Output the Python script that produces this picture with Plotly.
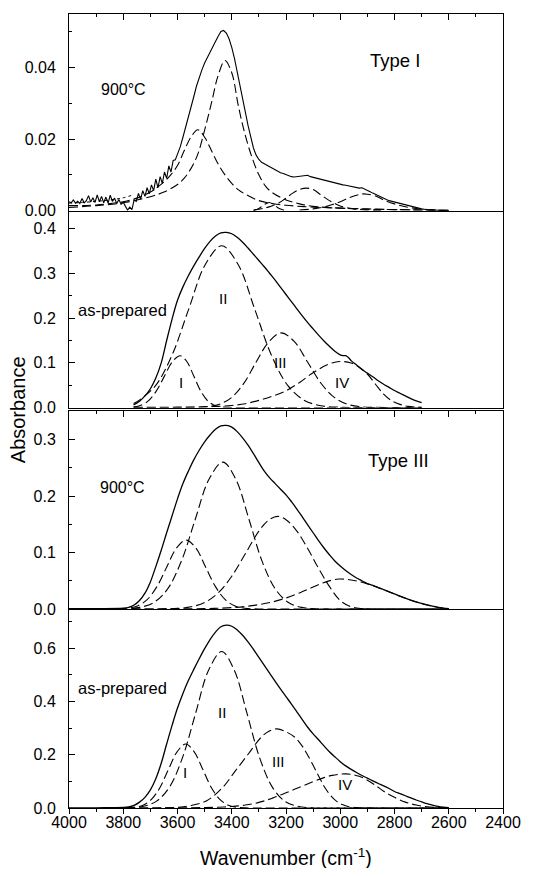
import plotly.graph_objects as go

FONT = "Liberation Sans, Arial, Helvetica, sans-serif"

# ---------------- Panel 1 : Type I, 900 °C ----------------
p1_raw_x1 = list(range(4000, 3599, -8))
p1_raw_y1 = [0.0025, 0.0022, 0.0030, 0.0021, 0.0026, 0.0020, 0.0034, 0.0022, 0.0028, 0.0042,
             0.0024, 0.0036, 0.0023, 0.0044, 0.0025, 0.0040, 0.0022, 0.0038, 0.0021, 0.0043,
             0.0026, 0.0035, 0.0020, 0.0031, 0.0018,
             0.0024, 0.0012, 0.0002, 0.0010, 0.0003,
             0.0030, 0.0026, 0.0048, 0.0032, 0.0056, 0.0040, 0.0064, 0.0047, 0.0072, 0.0056,
             0.0088, 0.0064, 0.0095, 0.0076, 0.0108, 0.0090, 0.0125, 0.0108, 0.0140, 0.0142,
             0.0158]
p1_raw_x2 = list(range(3590, 2599, -10))
p1_raw_y2 = [0.0178, 0.0205, 0.0232, 0.0258, 0.0287, 0.0318, 0.0348, 0.0372, 0.0393, 0.0412,
             0.0428, 0.0443, 0.0457, 0.0472, 0.0487, 0.0500, 0.0503, 0.0496, 0.0480, 0.0456,
             0.0425, 0.0390, 0.0355, 0.0316, 0.0276, 0.0238, 0.0203, 0.0175, 0.0155, 0.0143,
             0.0135, 0.0131, 0.0126, 0.0121, 0.0117, 0.0113, 0.0110, 0.0106, 0.0104, 0.0101,
             0.0097, 0.0095, 0.0094, 0.0095, 0.0096, 0.0098, 0.0097, 0.0099, 0.0095, 0.0093,
             0.0090, 0.0088, 0.0086, 0.0084, 0.0082, 0.0080, 0.0078, 0.0077, 0.0075, 0.0074,
             0.0072, 0.0071, 0.0069, 0.0068, 0.0066, 0.0064, 0.0063, 0.0064, 0.0061, 0.0057,
             0.0053, 0.0049, 0.0045, 0.0041, 0.0037, 0.0034, 0.0031, 0.0028, 0.0026, 0.0023,
             0.0021, 0.0019, 0.0017, 0.0015, 0.0013, 0.0011, 0.0009, 0.0008, 0.0006, 0.0005,
             0.0004, 0.0003, 0.0003, 0.0002, 0.0002, 0.0001, 0.0001, 0.0001, 0.0000, 0.0000]
p1_fit_x = [4000, 3950, 3900, 3850, 3800, 3760]
p1_fit_y = [0.0021, 0.0023, 0.0026, 0.0030, 0.0036, 0.0045]

p1_A_x = [4000, 3900, 3800, 3700, 3650, 3600, 3575, 3550, 3525, 3500, 3475, 3450, 3425, 3400,
          3375, 3350, 3325, 3300, 3275, 3250, 3200, 3150, 3100, 3000, 2900, 2800, 2700, 2600]
p1_A_y = [0.0009, 0.0014, 0.0022, 0.0039, 0.0052, 0.0073, 0.0091, 0.0118, 0.0158, 0.0225,
          0.0300, 0.0378, 0.0419, 0.0385, 0.0290, 0.0210, 0.0148, 0.0100, 0.0068, 0.0050,
          0.0030, 0.0019, 0.0012, 0.0007, 0.0004, 0.0003, 0.0002, 0.0001]
p1_B_x = [4000, 3900, 3800, 3750, 3700, 3650, 3625, 3600, 3575, 3550, 3525, 3500, 3475, 3450,
          3425, 3400, 3375, 3350, 3300, 3250, 3200, 3100, 3000, 2900, 2800, 2700, 2600]
p1_B_y = [0.0014, 0.0016, 0.0025, 0.0035, 0.0052, 0.0080, 0.0100, 0.0126, 0.0168, 0.0206,
          0.0226, 0.0205, 0.0168, 0.0130, 0.0100, 0.0076, 0.0058, 0.0046, 0.0028, 0.0020,
          0.0015, 0.0010, 0.0007, 0.0005, 0.0003, 0.0002, 0.0001]
p1_C_x = [3320, 3300, 3280, 3262, 3245, 3225, 3200]
p1_C_y = [0.0, 0.0006, 0.0017, 0.0023, 0.0017, 0.0006, 0.0]
p1_D_x = [3320, 3280, 3250, 3225, 3200, 3175, 3150, 3125, 3100, 3075, 3050, 3025, 3000, 2950, 2900, 2850]
p1_D_y = [0.0002, 0.0007, 0.0014, 0.0022, 0.0035, 0.0049, 0.0059, 0.0063, 0.0059, 0.0046,
          0.0033, 0.0022, 0.0013, 0.0005, 0.0002, 0.0001]
p1_E_x = [3150, 3100, 3050, 3000, 2960, 2930, 2915, 2900, 2870, 2840, 2800, 2760, 2720, 2680, 2640, 2600]
p1_E_y = [0.0002, 0.0005, 0.0012, 0.0025, 0.0038, 0.0045, 0.0047, 0.0046, 0.0041, 0.0030,
          0.0019, 0.0011, 0.0006, 0.0003, 0.0001, 0.0000]

# ---------------- Panel 2 : Type I, as-prepared ----------------
p2_tot_x = [3762] + list(range(3740, 2999, -20)) + [2990, 2980, 2970, 2960] + list(range(2940, 2699, -20))
p2_tot_y = [0.006, 0.014, 0.026, 0.042, 0.066, 0.100, 0.150, 0.198, 0.240, 0.270,
            0.295, 0.317, 0.337, 0.356, 0.372, 0.384, 0.391, 0.392, 0.389, 0.381,
            0.370, 0.357, 0.343, 0.329, 0.315, 0.300, 0.285, 0.269, 0.253, 0.237,
            0.221, 0.205, 0.190, 0.176, 0.162, 0.149, 0.137, 0.126, 0.118,
            0.116, 0.116, 0.112, 0.105,
            0.095, 0.085, 0.077, 0.069, 0.060, 0.052, 0.045, 0.038, 0.032, 0.026, 0.020, 0.015, 0.011]
p2_I_x = [3762, 3740, 3710, 3680, 3650, 3620, 3590, 3565, 3540, 3515, 3490, 3465, 3440, 3400, 3300, 3100, 2900, 2700]
p2_I_y = [0.0014, 0.0041, 0.0136, 0.035, 0.068, 0.1015, 0.116, 0.1024, 0.0704, 0.0377,
          0.0157, 0.0051, 0.0013, 0.0001, 0.0, 0.0, 0.0, 0.0]
p2_II_x = [3762, 3742, 3681, 3620, 3559, 3498, 3437, 3376, 3315, 3254, 3193, 3132, 3071, 3010, 2950, 2850, 2700]
p2_II_y = [0.009, 0.0159, 0.049, 0.1175, 0.2196, 0.3195, 0.362, 0.3195, 0.2196, 0.1175,
           0.049, 0.0159, 0.004, 0.0008, 0.0001, 0.0, 0.0]
p2_III_x = [3762, 3580, 3535, 3490, 3445, 3400, 3355, 3310, 3263, 3218, 3169, 3120, 3071,
            3022, 2973, 2924, 2875, 2800, 2700]
p2_III_y = [0.0, 0.0001, 0.0004, 0.0019, 0.0074, 0.0227, 0.0546, 0.1019, 0.1474, 0.167,
            0.1474, 0.1013, 0.0543, 0.0226, 0.0073, 0.0018, 0.0004, 0.0, 0.0]
p2_IV_x = [3762, 3600, 3500, 3450, 3400, 3350, 3300, 3250, 3200, 3150, 3100, 3050, 3020,
           2994, 2960, 2930, 2900, 2870, 2840, 2810, 2780, 2750, 2700]
p2_IV_y = [0.0002, 0.0008, 0.0015, 0.0025, 0.0045, 0.0085, 0.0160, 0.0255, 0.0375, 0.0560,
           0.0780, 0.0950, 0.1015, 0.1030, 0.0995, 0.0900, 0.0750, 0.0520, 0.0300, 0.0150,
           0.0070, 0.0025, 0.0005]

# ---------------- Panel 3 : Type III, 900 °C ----------------
p3_tot_x = [4000, 3900, 3800] + list(range(3780, 2599, -20))
p3_tot_y = [0.0005, 0.0008, 0.0015,
            0.0028, 0.007, 0.015, 0.028, 0.048, 0.075, 0.104, 0.135, 0.165, 0.195,
            0.222, 0.244, 0.264, 0.281, 0.296, 0.308, 0.318, 0.324, 0.325, 0.322,
            0.314, 0.303, 0.290, 0.275, 0.259, 0.244, 0.232, 0.222, 0.212, 0.202,
            0.190, 0.177, 0.163, 0.149, 0.135, 0.121, 0.108, 0.096, 0.085, 0.076,
            0.068, 0.061, 0.055, 0.050, 0.045, 0.042, 0.038, 0.0345, 0.0305, 0.0268,
            0.023, 0.0192, 0.0158, 0.0127, 0.0098, 0.0072, 0.005, 0.0031, 0.0015, 0.0005]
p3_I_x = [3820, 3784, 3748, 3712, 3676, 3640, 3604, 3568, 3532, 3496, 3460, 3424, 3388, 3352, 3300, 3000, 2600]
p3_I_y = [0.0003, 0.0014, 0.0054, 0.0165, 0.0396, 0.074, 0.1077, 0.122, 0.1077, 0.074,
          0.0396, 0.0165, 0.0054, 0.0014, 0.0001, 0.0, 0.0]
p3_II_x = [3770, 3739, 3688, 3637, 3586, 3535, 3484, 3433, 3385, 3336, 3288, 3239, 3191, 3142, 3094, 3000, 2600]
p3_II_y = [0.0010, 0.0029, 0.0114, 0.0352, 0.0844, 0.158, 0.2295, 0.26, 0.2295, 0.158,
           0.0844, 0.0352, 0.0114, 0.0029, 0.0006, 0.0, 0.0]
p3_III_x = [3770, 3650, 3600, 3550, 3500, 3450, 3400, 3350, 3300, 3265, 3231, 3200, 3160,
            3120, 3080, 3040, 3000, 2960, 2920, 2850, 2600]
p3_III_y = [0.0, 0.0003, 0.0011, 0.0039, 0.0116, 0.0285, 0.058, 0.0977, 0.1378, 0.157,
            0.164, 0.158, 0.138, 0.107, 0.072, 0.040, 0.015, 0.004, 0.0008, 0.0001, 0.0]
p3_IV_x = [3770, 3600, 3500, 3450, 3400, 3350, 3300, 3250, 3200, 3150, 3100, 3050, 3006,
           2960, 2920, 2880, 2840, 2800, 2760, 2720, 2680, 2640, 2600]
p3_IV_y = [0.0, 0.0003, 0.0008, 0.0014, 0.0025, 0.0045, 0.0078, 0.0125, 0.0195, 0.0285,
           0.0390, 0.0485, 0.053, 0.0515, 0.0475, 0.0415, 0.0345, 0.0265, 0.0190, 0.0125,
           0.0070, 0.0030, 0.0004]

# ---------------- Panel 4 : Type III, as-prepared ----------------
p4_tot_x = [4000, 3900] + list(range(3800, 2599, -20))
p4_tot_y = [0.0003, 0.0008,
            0.002, 0.004, 0.010, 0.022, 0.040, 0.068, 0.110, 0.168, 0.240, 0.310,
            0.375, 0.430, 0.478, 0.520, 0.560, 0.598, 0.632, 0.660, 0.680, 0.686,
            0.682, 0.668, 0.648, 0.623, 0.595, 0.565, 0.535, 0.505, 0.475, 0.446,
            0.418, 0.390, 0.361, 0.332, 0.303, 0.278, 0.256, 0.233, 0.211, 0.192,
            0.174, 0.158, 0.145, 0.133, 0.122, 0.112, 0.102, 0.092, 0.083, 0.073,
            0.062, 0.054, 0.046, 0.038, 0.030, 0.023, 0.016, 0.011, 0.006, 0.003,
            0.001]
p4_I_x = [3790, 3759, 3727, 3696, 3664, 3633, 3601, 3570, 3539, 3507, 3476, 3444, 3413, 3381, 3350, 3200, 2600]
p4_I_y = [0.0005, 0.0027, 0.0105, 0.0325, 0.0779, 0.1456, 0.2118, 0.24, 0.2118, 0.1456,
          0.0779, 0.0325, 0.0105, 0.0027, 0.0005, 0.0, 0.0]
p4_II_x = [3790, 3773, 3725, 3677, 3629, 3581, 3533, 3485, 3437, 3391, 3344, 3298, 3251, 3205, 3158, 3112, 3000, 2600]
p4_II_y = [0.0007, 0.0013, 0.0065, 0.0258, 0.0794, 0.1907, 0.356, 0.518, 0.587, 0.518,
           0.356, 0.1907, 0.0794, 0.0258, 0.0065, 0.0013, 0.0, 0.0]
p4_III_x = [3790, 3650, 3600, 3551, 3492, 3433, 3386, 3339, 3292, 3263, 3233, 3200, 3167,
            3140, 3120, 3100, 3084, 3070, 3055, 3035, 3013, 2990, 2971, 2940, 2900, 2600]
p4_III_y = [0.0, 0.0007, 0.0028, 0.009, 0.0275, 0.0775, 0.14, 0.2025, 0.265, 0.288,
            0.297, 0.286, 0.265, 0.232, 0.198, 0.160, 0.128, 0.101, 0.074, 0.046,
            0.025, 0.012, 0.0055, 0.0015, 0.0003, 0.0]
p4_IV_x = [3790, 3600, 3500, 3450, 3400, 3350, 3300, 3250, 3200, 3150, 3100, 3060, 3030,
           3000, 2980, 2960, 2930, 2900, 2870, 2840, 2800, 2760, 2720, 2680, 2640, 2600]
p4_IV_y = [0.0, 0.0005, 0.0015, 0.003, 0.0055, 0.011, 0.021, 0.037, 0.057, 0.078,
           0.099, 0.114, 0.1225, 0.127, 0.128, 0.1265, 0.119, 0.1045, 0.085, 0.063,
           0.040, 0.022, 0.011, 0.0045, 0.0015, 0.0003]

# ---------------- labels ----------------
panel_labels = [
    # (text, wavenumber, absorbance, panel, size)
    ("Type I", 2800, 0.0420, 1, 18.5),
    ("900°C", 3798, 0.0339, 1, 16),
    ("as-prepared", 3801, 0.218, 2, 16.5),
    ("I", 3586, 0.057, 2, 15),
    ("II", 3434, 0.244, 2, 15),
    ("III", 3219, 0.100, 2, 15),
    ("IV", 2992, 0.055, 2, 15),
    ("Type III", 2785, 0.263, 3, 18.5),
    ("900°C", 3801, 0.215, 3, 16),
    ("as-prepared", 3801, 0.451, 4, 16.5),
    ("I", 3574, 0.134, 4, 15),
    ("II", 3435, 0.360, 4, 15),
    ("III", 3229, 0.174, 4, 15),
    ("IV", 2984, 0.087, 4, 15),
]

fig = go.Figure()

SOLID = dict(color="black", width=1.3)
DASH = dict(color="black", width=1.1, dash="9px,4px")


def add(x, y, panel, line, shape="spline"):
    sfx = "" if panel == 1 else str(panel)
    ln = dict(line)
    ln["shape"] = shape
    if shape == "spline":
        ln["smoothing"] = 1.0
    fig.add_trace(go.Scatter(x=x, y=y, mode="lines", line=ln,
                             xaxis="x" + sfx, yaxis="y" + sfx, showlegend=False, hoverinfo="skip"))


# panel 1
for cx, cy in [(p1_A_x, p1_A_y), (p1_B_x, p1_B_y), (p1_C_x, p1_C_y), (p1_D_x, p1_D_y), (p1_E_x, p1_E_y)]:
    add(cx, cy, 1, DASH)
add(p1_fit_x, p1_fit_y, 1, dict(color="black", width=1.0, dash="dot"))
add(p1_raw_x1 + p1_raw_x2, p1_raw_y1 + p1_raw_y2, 1, dict(color="black", width=1.1), shape="linear")
# panel 2
for cx, cy in [(p2_I_x, p2_I_y), (p2_II_x, p2_II_y), (p2_III_x, p2_III_y), (p2_IV_x, p2_IV_y)]:
    add(cx, cy, 2, DASH)
add(p2_tot_x, p2_tot_y, 2, SOLID)
# panel 3
for cx, cy in [(p3_I_x, p3_I_y), (p3_II_x, p3_II_y), (p3_III_x, p3_III_y), (p3_IV_x, p3_IV_y)]:
    add(cx, cy, 3, DASH)
add(p3_tot_x, p3_tot_y, 3, SOLID)
# panel 4
for cx, cy in [(p4_I_x, p4_I_y), (p4_II_x, p4_II_y), (p4_III_x, p4_III_y), (p4_IV_x, p4_IV_y)]:
    add(cx, cy, 4, DASH)
add(p4_tot_x, p4_tot_y, 4, SOLID)

# ---------------- axes ----------------
domains = {1: [0.7523, 1.0], 2: [0.5044, 0.7510], 3: [0.2506, 0.5006], 4: [0.0, 0.2494]}
yranges = {1: [0, 0.0549], 2: [0, 0.4383], 3: [0, 0.3513], 4: [0, 0.743]}
ydticks = {1: 0.02, 2: 0.1, 3: 0.1, 4: 0.2}
yminor = {1: 0.01, 2: 0.05, 3: 0.05, 4: 0.1}
yfmt = {1: ".2f", 2: ".1f", 3: ".1f", 4: ".1f"}

tickfont = dict(family=FONT, size=16, color="black")
# the page body has an 8px default margin, so the figure is sized to fit inside it
layout = dict(
    width=530, height=860,
    margin=dict(l=61, r=35, t=6, b=60),
    paper_bgcolor="white", plot_bgcolor="white",
    font=dict(family=FONT, color="black"),
    showlegend=False,
)
for p in (1, 2, 3, 4):
    sfx = "" if p == 1 else str(p)
    xa = dict(
        range=[4000, 2400], domain=[0, 1], anchor="y" + sfx,
        showline=True, linecolor="black", linewidth=1, mirror=True,
        showgrid=False, zeroline=False, tick0=2400, dtick=200,
        tickcolor="black", tickfont=tickfont,
    )
    if p in (1, 3):
        xa.update(side="top", ticks="inside", ticklen=6, showticklabels=False,
                  minor=dict(ticks="inside", dtick=100, tick0=2400, ticklen=3, tickcolor="black", showgrid=False))
    elif p == 2:
        xa.update(ticks="", showticklabels=False)
    else:
        xa.update(side="bottom", ticks="outside", ticklen=5, showticklabels=True, ticklabelstandoff=-5,
                  minor=dict(ticks="outside", dtick=100, tick0=2400, ticklen=3, tickcolor="black", showgrid=False))
    ya = dict(
        range=yranges[p], domain=domains[p], anchor="x" + sfx,
        showline=True, linecolor="black", linewidth=1, mirror=True,
        showgrid=False, zeroline=False, tick0=0, dtick=ydticks[p], tickformat=yfmt[p],
        ticks="inside", ticklen=6, tickcolor="black", tickfont=tickfont, ticklabelstandoff=9,
        minor=dict(ticks="inside", dtick=yminor[p], tick0=0, ticklen=3, tickcolor="black", showgrid=False),
    )
    layout["xaxis" + sfx] = xa
    layout["yaxis" + sfx] = ya

annotations = []
for text, wx, ay, p, size in panel_labels:
    sfx = "" if p == 1 else str(p)
    annotations.append(dict(text=text, x=wx, y=ay, xref="x" + sfx, yref="y" + sfx,
                            showarrow=False, font=dict(family=FONT, size=size, color="black"),
                            xanchor="center", yanchor="middle"))
annotations.append(dict(text="Wavenumber (cm<sup>-1</sup>)", x=0.5, y=-0.062, xref="paper", yref="paper",
                        showarrow=False, font=dict(family=FONT, size=19.5, color="black"),
                        xanchor="center", yanchor="middle"))
annotations.append(dict(text="Absorbance", x=-0.1175, y=0.501, xref="paper", yref="paper",
                        textangle=-90, showarrow=False, font=dict(family=FONT, size=20, color="black"),
                        xanchor="center", yanchor="middle"))
layout["annotations"] = annotations

fig.update_layout(**layout)
fig.write_html("out.html")
